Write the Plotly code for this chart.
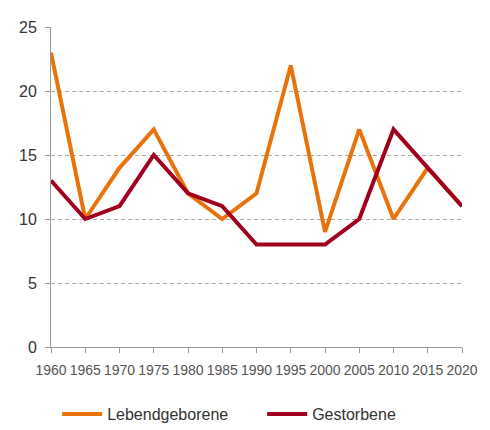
import plotly.graph_objects as go

years = [1960, 1965, 1970, 1975, 1980, 1985, 1990, 1995, 2000, 2005, 2010, 2015, 2020]
lebendgeborene = [23, 10, 14, 17, 12, 10, 12, 22, 9, 17, 10, 14, 11]
gestorbene = [13, 10, 11, 15, 12, 11, 8, 8, 8, 10, 17, 14, 11]
y_ticks = [0, 5, 10, 15, 20, 25]

fig = go.Figure()
fig.add_trace(go.Scatter(x=years, y=lebendgeborene, mode="lines", name="Lebendgeborene",
                         line=dict(color="#E8730C", width=4)))
fig.add_trace(go.Scatter(x=years, y=gestorbene, mode="lines", name="Gestorbene",
                         line=dict(color="#A0001E", width=4)))

fig.update_layout(
    width=490, height=430,
    margin=dict(l=43, r=36, t=19, b=91, autoexpand=False),
    paper_bgcolor="white", plot_bgcolor="white",
    font=dict(family="Liberation Sans, Arial, sans-serif", size=16, color="#333333"),
    showlegend=True,
    legend=dict(orientation="h", x=0.015, xanchor="left", y=-0.21, yanchor="middle",
                font=dict(size=16, color="#333333"), itemwidth=40, traceorder="normal",
                entrywidth=150, entrywidthmode="pixels"),
    xaxis=dict(range=[1960, 2020], tickvals=years, ticktext=[str(y) for y in years],
               showgrid=False, showline=True, linecolor="#999999", linewidth=1,
               ticks="outside", ticklen=5, tickcolor="#999999", tickangle=0,
               automargin=False, ticklabelstandoff=5,
               tickfont=dict(family="Liberation Sans, Arial, sans-serif", size=14, color="#555555"),
               zeroline=False),
    yaxis=dict(range=[0, 25], tickvals=y_ticks, showgrid=True, gridcolor="#AAAAAA",
               griddash="4px,3px", gridwidth=1, automargin=False,
               showline=True, linecolor="#999999", linewidth=1,
               ticks="outside", ticklen=5, tickcolor="#999999", ticklabelstandoff=5,
               tickfont=dict(size=16, color="#333333"), zeroline=False),
)

fig.write_html("out.html")
